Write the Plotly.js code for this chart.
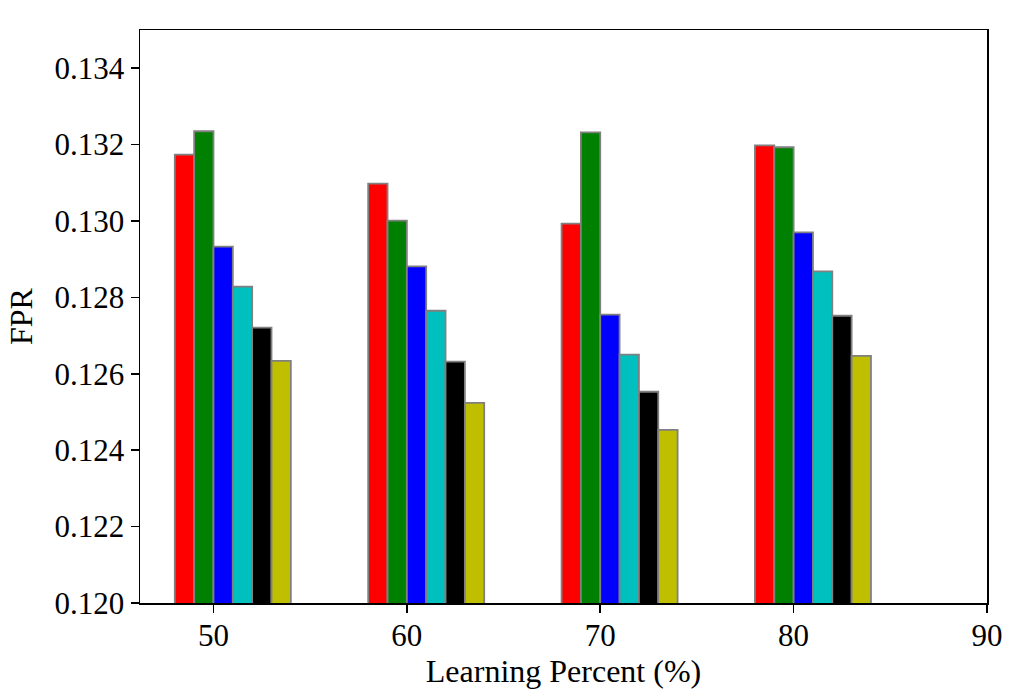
<!DOCTYPE html>
<html>
<head>
<meta charset="utf-8">
<script src="https://cdn.plot.ly/plotly-3.0.1.min.js"></script>
<style>html,body{margin:0;padding:0;background:#fff;}#chart{width:1012px;height:698px;}</style>
</head>
<body>
<div id="chart"></div>
<script>
const learningPercent = [50, 60, 70, 80];
const seriesRed    = [0.13174, 0.13098, 0.12993, 0.13198];
const seriesGreen  = [0.13235, 0.13001, 0.13232, 0.13193];
const seriesBlue   = [0.12933, 0.12881, 0.12755, 0.12970];
const seriesCyan   = [0.12828, 0.12765, 0.12650, 0.12868];
const seriesBlack  = [0.12721, 0.12632, 0.12553, 0.12752];
const seriesYellow = [0.12634, 0.12524, 0.12453, 0.12647];
const xTickVals = [50, 60, 70, 80, 90];
const yTickVals = [0.120, 0.122, 0.124, 0.126, 0.128, 0.130, 0.132, 0.134];

const series = [
  {name: 'S1', y: seriesRed, color: '#ff0000', offset: -2},
  {name: 'S2', y: seriesGreen, color: '#008000', offset: -1},
  {name: 'S3', y: seriesBlue, color: '#0000ff', offset: 0},
  {name: 'S4', y: seriesCyan, color: '#00bfbf', offset: 1},
  {name: 'S5', y: seriesBlack, color: '#000000', offset: 2},
  {name: 'S6', y: seriesYellow, color: '#bfbf00', offset: 3}
];

const traces = series.map(s => ({
  type: 'bar',
  name: s.name,
  x: learningPercent,
  y: s.y,
  base: 0,
  width: 1,
  offset: s.offset,
  marker: {color: s.color, line: {color: '#808080', width: 1.8}},
  showlegend: false,
  hoverinfo: 'x+y'
}));

const font = {family: '"Liberation Serif", "Times New Roman", serif', color: '#000'};

const layout = {
  width: 1012, height: 698,
  margin: {l: 140, r: 25, t: 30, b: 95},
  paper_bgcolor: '#fff', plot_bgcolor: '#fff',
  barmode: 'overlay',
  font: Object.assign({size: 31}, font),
  xaxis: {
    range: [46.2, 90],
    tickvals: xTickVals,
    ticks: 'outside', ticklen: 8, tickwidth: 1.5, tickcolor: '#000',
    ticklabelstandoff: -4,
    showline: true, linecolor: '#000', linewidth: 1.5, mirror: true,
    showgrid: false, zeroline: false,
    tickfont: Object.assign({size: 31}, font),
    title: {text: 'Learning Percent (%)', font: Object.assign({size: 32}, font), standoff: 8}
  },
  yaxis: {
    range: [0.120, 0.135],
    tickvals: yTickVals,
    tickformat: '.3f',
    ticks: 'outside', ticklen: 8, tickwidth: 1.5, tickcolor: '#000',
    showline: true, linecolor: '#000', linewidth: 1.5, mirror: true,
    showgrid: false, zeroline: false,
    tickfont: Object.assign({size: 31}, font),
    title: {text: 'FPR', font: Object.assign({size: 32}, font), standoff: 12}
  }
};

Plotly.newPlot('chart', traces, layout, {displayModeBar: false, staticPlot: true});
</script>
</body>
</html>
